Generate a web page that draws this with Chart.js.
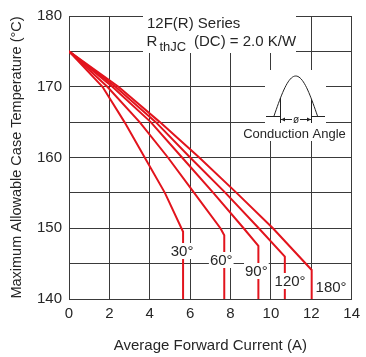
<!DOCTYPE html>
<html><head><meta charset="utf-8">
<script src="https://cdn.jsdelivr.net/npm/chart.js@4/dist/chart.umd.min.js"></script>
<style>html,body{margin:0;padding:0;background:#fff}canvas{display:block}</style>
</head><body>
<canvas id="c" width="366" height="357"></canvas>
<script>
// ---- data ----
const angleLabels = ['30°', '60°', '90°', '120°', '180°'];
const current30  = [0, 1.66, 2.75, 3.75, 4.75, 5.65, 5.65];
const temp30     = [175, 170, 165, 160, 155, 149.5, 140];
const current60  = [0, 1.9, 3.5, 4.9, 6.2, 7.5, 7.69, 7.69];
const temp60     = [175, 170, 165, 160, 155, 150, 149, 140];
const current90  = [0, 2.15, 4.05, 5.6, 7.15, 8.65, 9.38, 9.38];
const temp90     = [175, 170, 165, 160, 155, 150, 147.5, 140];
const current120 = [0, 2.3, 4.3, 6.0, 7.75, 9.4, 10.69, 10.69];
const temp120    = [175, 170, 165, 160, 155, 150, 146, 140];
const current180 = [0, 2.45, 4.5, 6.45, 8.3, 10.1, 12.02, 12.02];
const temp180    = [175, 170, 165, 160, 155, 150, 144.1, 140];
const xTickValues = [0, 2, 4, 6, 8, 10, 12, 14];
const yTickValues = [140, 150, 160, 170, 180];
const seriesTitle = '12F(R) Series';
const xTitle = 'Average Forward Current (A)';
const yTitle = 'Maximum Allowable Case Temperature (°C)';

const seriesX = [current30, current60, current90, current120, current180];
const seriesY = [temp30, temp60, temp90, temp120, temp180];

const RED = '#e2141d';
const TXT = '#262626';
const GRID = '#3a3a3a';
const FONT = '"Liberation Sans", Arial, sans-serif';

const datasets = angleLabels.map((lab, i) => ({
  label: lab,
  data: seriesX[i].map((x, j) => ({x: x, y: seriesY[i][j]})),
  borderColor: RED,
  backgroundColor: RED,
  borderWidth: 2,
  pointRadius: 0,
  tension: 0,
  fill: false
}));

// label anchors: x in data units, baseline in pixels – styling/positioning only
const labelAnchors = [[5.60, 256], [7.54, 265], [9.28, 276], [10.95, 286], [12.98, 291.7]];

const overlay = {
  id: 'overlay',
  afterDatasetsDraw(chart) {
    const ctx = chart.ctx;
    const xs = chart.scales.x;
    ctx.save();
    ctx.fillStyle = '#fff';
    // header box
    ctx.fillRect(143, 15, 153, 38);
    // inset box
    ctx.fillRect(265, 70, 61, 71);
    ctx.fillRect(241, 125, 107, 16);

    ctx.fillStyle = TXT;
    ctx.textBaseline = 'alphabetic';
    ctx.textAlign = 'left';
    ctx.font = '15px ' + FONT;
    ctx.fillText(seriesTitle, 147, 27.5);
    ctx.fillText('R', 146.5, 46);
    ctx.font = '13px ' + FONT;
    ctx.fillText('thJC', 159.5, 50.5);
    ctx.font = '15px ' + FONT;
    ctx.fillText('(DC) = 2.0 K/W', 194, 46);

    // conduction angle sketch
    ctx.strokeStyle = '#222';
    ctx.lineWidth = 1;
    const bx0 = 274, bx1 = 317.5, by = 116, h = 40;
    ctx.beginPath();
    for (let k = 0; k <= 40; k++) {
      const t = k / 40;
      const px = bx0 + (bx1 - bx0) * t;
      const py = by - h * Math.sin(Math.PI * t);
      if (k === 0) ctx.moveTo(px, py); else ctx.lineTo(px, py);
    }
    ctx.stroke();
    const yAt = px => by - h * Math.sin(Math.PI * (px - bx0) / (bx1 - bx0));
    ctx.beginPath();
    ctx.moveTo(266, by + 0.5); ctx.lineTo(280, by + 0.5);
    ctx.moveTo(311, by + 0.5); ctx.lineTo(325, by + 0.5);
    ctx.moveTo(280.5, yAt(280.5)); ctx.lineTo(280.5, 123);
    ctx.moveTo(311.5, yAt(311.5)); ctx.lineTo(311.5, 123);
    ctx.moveTo(281, 119.5); ctx.lineTo(292, 119.5);
    ctx.moveTo(300, 119.5); ctx.lineTo(311, 119.5);
    ctx.stroke();
    ctx.fillStyle = '#222';
    ctx.beginPath();
    ctx.moveTo(281, 119.5); ctx.lineTo(285, 117.5); ctx.lineTo(285, 121.5); ctx.closePath();
    ctx.moveTo(311, 119.5); ctx.lineTo(307, 117.5); ctx.lineTo(307, 121.5); ctx.closePath();
    ctx.fill();
    ctx.font = '10px ' + FONT;
    ctx.textAlign = 'center';
    ctx.fillText('ø', 296, 122.5);
    ctx.fillStyle = TXT;
    ctx.font = '13px ' + FONT;
    ctx.fillText('Conduction Angle', 294.5, 138);

    // angle labels
    ctx.font = '15px ' + FONT;
    angleLabels.forEach((lab, i) => {
      const cx = xs.getPixelForValue(labelAnchors[i][0]);
      const base = labelAnchors[i][1];
      const w = ctx.measureText(lab).width;
      ctx.fillStyle = '#fff';
      ctx.fillRect(cx - w / 2 - 1, base - 13, w + 2, 16);
      ctx.fillStyle = TXT;
      ctx.fillText(lab, cx, base);
    });
    ctx.restore();
  }
};

new Chart(document.getElementById('c'), {
  type: 'scatter',
  data: {datasets: datasets},
  options: {
    responsive: false,
    animation: false,
    showLine: true,
    layout: {padding: {top: 10, right: 8, left: 0, bottom: 0}},
    plugins: {legend: {display: false}, tooltip: {enabled: false}},
    scales: {
      x: {
        type: 'linear', min: 0, max: 14,
        afterBuildTicks: s => { s.ticks = xTickValues.map(v => ({value: v})); },
        afterFit: s => { s.height = 58; },
        grid: {color: GRID, lineWidth: 1, drawTicks: false},
        border: {color: GRID},
        ticks: {color: TXT, font: {family: FONT, size: 15}, padding: 6, maxRotation: 0},
        title: {display: true, text: xTitle, color: TXT, font: {family: FONT, size: 15}, padding: {top: 0, bottom: 2}}
      },
      y: {
        type: 'linear', min: 140, max: 180,
        afterBuildTicks: s => {
          const t = [];
          for (let v = 140; v <= 180; v += 5) t.push({value: v});
          s.ticks = t;
        },
        afterFit: s => { s.width = 69; },
        grid: {color: GRID, lineWidth: 1, drawTicks: false},
        border: {color: GRID},
        ticks: {color: TXT, font: {family: FONT, size: 15}, padding: 7,
          callback: v => yTickValues.includes(v) ? String(v) : ''},
        title: {display: true, text: yTitle, color: TXT, font: {family: FONT, size: 14.5}, padding: {top: 8, bottom: 0}}
      }
    }
  },
  plugins: [overlay]
});
</script>
</body></html>
